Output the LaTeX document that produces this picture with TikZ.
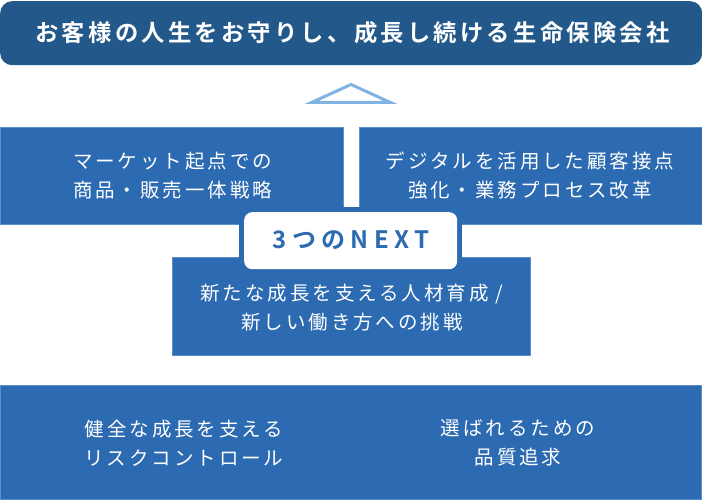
\documentclass[tikz,border=0pt]{standalone}
\usepackage{fontspec}
\newfontfamily\jp[LetterSpace=15]{Noto Sans CJK JP}
\newfontfamily\jpbold[LetterSpace=14]{Noto Sans CJK JP Bold}
\newfontfamily\jplabel[LetterSpace=22]{Noto Sans CJK JP Bold}
\definecolor{darkblue}{HTML}{23598A}
\definecolor{midblue}{HTML}{2C6AB1}
\definecolor{lightblue}{HTML}{7FB3E1}
\definecolor{edgeblue}{HTML}{5B8FCB}
\begin{document}
\begin{tikzpicture}[x=1pt,y=-1pt,
  box/.style={fill=midblue, draw=edgeblue, line width=0.7pt, anchor=north west, inner sep=0pt},
  txt/.style={text=white, font=\jp\fontsize{19.5}{29.5}\selectfont, align=center, inner sep=0pt},
  toptxt/.style={text=white, font=\jpbold\fontsize{23.3}{26}\selectfont, inner sep=0pt},
  labeltxt/.style={text=midblue, font=\jplabel\fontsize{24}{28}\selectfont, inner sep=0pt}]
\useasboundingbox (0,0) rectangle (702,500);
% top banner
\node[fill=darkblue, rounded corners=12pt, anchor=north west, inner sep=0pt,
      minimum width=702pt, minimum height=64pt] (top) at (0,1) {};
\node[toptxt] (toptext) at (352.5,33) {お客様の人生をお守りし、成長し続ける生命保険会社};
% triangle marker
\draw[lightblue, line width=3pt, line join=miter] (351,84.5) -- (311.5,102.5) -- (390.5,102.5) -- cycle;
% upper boxes
\node[box, minimum width=343pt, minimum height=97pt] (left) at (0,127) {};
\node[box, minimum width=343pt, minimum height=97pt] (right) at (359,127) {};
\node[txt] (lefttext) at (172.5,175.5) {マーケット起点での\\商品・販売一体戦略};
\node[txt] (righttext) at (530,175.5) {デジタルを活用した顧客接点\\強化・業務プロセス改革};
% middle box
\node[box, minimum width=358pt, minimum height=98pt] (mid) at (172,257) {};
\node[txt] (midtext) at (352,307.5) {新たな成長を支える人材育成 /\\新しい働き方への挑戦};
% label
\node[fill=midblue, anchor=north west, inner sep=0pt, minimum width=223pt, minimum height=67pt] (labelback) at (239,207) {};
\node[fill=white, rounded corners=8pt, anchor=north west, inner sep=0pt, minimum width=213pt, minimum height=57pt] (label) at (244,212) {};
\node[labeltxt] (labeltext) at (351,240) {3つのNEXT};
% bottom box
\node[box, minimum width=701pt, minimum height=114pt] (bottom) at (0,385) {};
\node[txt] (bl) at (184,443) {健全な成長を支える\\リスクコントロール};
\node[txt] (br) at (518,443) {選ばれるための\\品質追求};
\end{tikzpicture}
\end{document}
